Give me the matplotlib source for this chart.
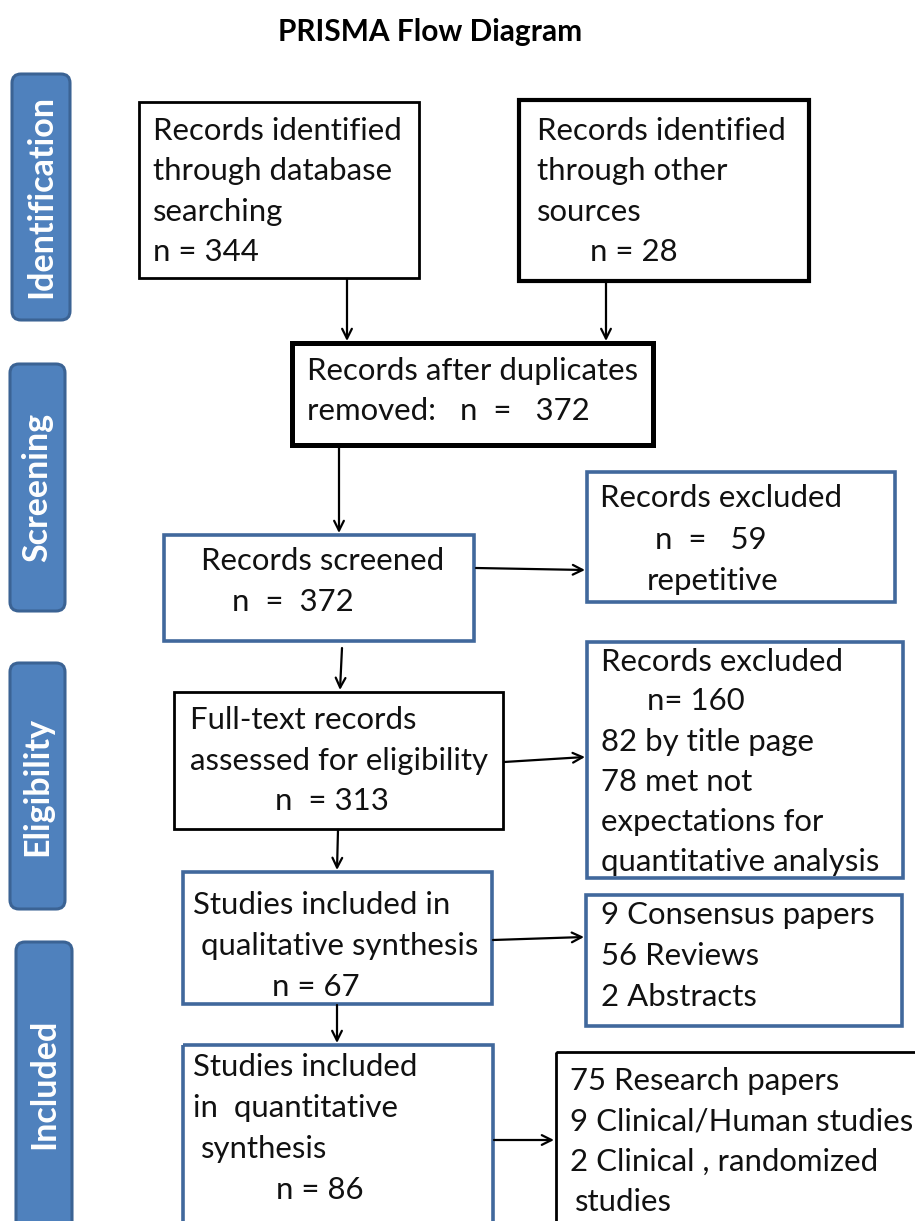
import matplotlib
matplotlib.use("Agg")
import matplotlib.pyplot as plt
from matplotlib.patches import FancyBboxPatch, Rectangle

# ---- data ----
title = "PRISMA Flow Diagram"
stages = ["Identification", "Screening", "Eligibility", "Included"]
n_database = 344
n_other = 28
n_after_dup = 372
n_screened = 372
n_excl_repetitive = 59
n_fulltext = 313
n_excl_full = 160
excl_reasons = [82, 78]
n_qualitative = 67
qual_breakdown = [9, 56, 2]
n_quantitative = 86
quant_breakdown = [75, 9, 2]

FONT = ["Lato", "DejaVu Sans"]
FS = 22.4
BLUE_FILL = "#4F81BD"
BLUE_EDGE = "#3B6394"
BOX_BLUE = "#41689C"

fig = plt.figure(figsize=(9.15, 12.21), dpi=100)
ax = fig.add_axes([0, 0, 1, 1])
ax.set_xlim(0, 915)
ax.set_ylim(1221, 0)
ax.axis("off")

ax.text(430, 32, title, ha="center", va="center", fontsize=21.5,
        fontweight="bold", family=FONT)

# stage side bars
bars = [(12, 74, 58, 246), (10, 364, 55, 247), (10, 663, 55, 246), (16, 942, 56, 300)]
for (x, y, w, h), lab in zip(bars, stages):
    p = FancyBboxPatch((x, y), w, h, boxstyle="round,pad=0,rounding_size=9",
                       facecolor=BLUE_FILL, edgecolor=BLUE_EDGE, lw=2.2)
    ax.add_patch(p)
    cy = y + h / 2 if lab != "Included" else 1084
    ax.text(x + w / 2, cy, lab, rotation=90, ha="center", va="center",
            color="white", fontsize=24.5, fontweight="bold", family=FONT)


def box(x0, y0, x1, y1, color="black", lw=2.0):
    ax.add_patch(Rectangle((x0, y0), x1 - x0, y1 - y0, fill=False,
                           edgecolor=color, lw=lw, joinstyle="miter"))


def lines(items):
    for x, y, s in items:
        ax.text(x, y, s, ha="left", va="center", fontsize=FS, family=FONT,
                color="#111111")


def arrow(x0, y0, x1, y1):
    ax.annotate("", xy=(x1, y1), xytext=(x0, y0),
                arrowprops=dict(arrowstyle="->,head_length=0.7,head_width=0.35",
                                color="black", lw=1.6, shrinkA=0, shrinkB=0))


# boxes
box(139, 102, 419, 278, lw=2.0)
box(519, 100, 809, 281, lw=3.0)
box(292, 343, 653, 445, lw=3.6)
box(164, 535, 474, 641, color=BOX_BLUE, lw=2.6)
box(587, 472, 895, 602, color=BOX_BLUE, lw=2.6)
box(174, 692, 503, 829, lw=2.0)
box(587, 642, 903, 878, color=BOX_BLUE, lw=2.6)
box(183, 872, 492, 1004, color=BOX_BLUE, lw=2.6)
box(586, 895, 902, 1026, color=BOX_BLUE, lw=2.6)
box(183, 1045, 493, 1240, color=BOX_BLUE, lw=2.6)
box(556, 1052, 930, 1240, lw=2.0)

# texts
lines([(153, 131, "Records identified"), (153, 171, "through database"),
       (153, 212, "searching"), (153, 252, f"n = {n_database}")])
lines([(537, 131, "Records identified"), (537, 171, "through other"),
       (537, 212, "sources"), (590, 252, f"n = {n_other}")])
lines([(307, 371, "Records after duplicates"),
       (307, 411, f"removed:   n  =   {n_after_dup}")])
lines([(201, 561, "Records screened"), (232, 602, f"n  =  {n_screened}")])
lines([(600, 498, "Records excluded"), (655, 540, f"n  =   {n_excl_repetitive}"),
       (647, 581, "repetitive")])
lines([(190, 720, "Full-text records"), (190, 761, "assessed for eligibility"),
       (275, 801, f"n  = {n_fulltext}")])
lines([(601, 662, "Records excluded"), (647, 701, f"n= {n_excl_full}"),
       (601, 742, f"{excl_reasons[0]} by title page"),
       (601, 782, f"{excl_reasons[1]} met not"),
       (601, 822, "expectations for"), (601, 862, "quantitative analysis")])
lines([(193, 905, "Studies included in"), (201, 946, "qualitative synthesis"),
       (272, 987, f"n = {n_qualitative}")])
lines([(601, 915, f"{qual_breakdown[0]} Consensus papers"),
       (601, 956, f"{qual_breakdown[1]} Reviews"),
       (601, 997, f"{qual_breakdown[2]} Abstracts")])
lines([(193, 1067, "Studies included"), (193, 1108, "in  quantitative"),
       (201, 1149, "synthesis"), (276, 1190, f"n = {n_quantitative}")])
lines([(570, 1081, f"{quant_breakdown[0]} Research papers"),
       (570, 1121, f"{quant_breakdown[1]} Clinical/Human studies"),
       (570, 1162, f"{quant_breakdown[2]} Clinical , randomized"),
       (575, 1202, "studies")])

# arrows
arrow(347, 279, 347, 341)
arrow(606, 282, 606, 341)
arrow(339, 446, 339, 533)
arrow(476, 568, 585, 570)
arrow(342, 648, 340, 690)
arrow(504, 762, 585, 757)
arrow(338, 830, 337, 870)
arrow(493, 940, 584, 937)
arrow(337, 1005, 337, 1043)
arrow(494, 1140, 554, 1140)

fig.savefig("out.png", dpi=100)
